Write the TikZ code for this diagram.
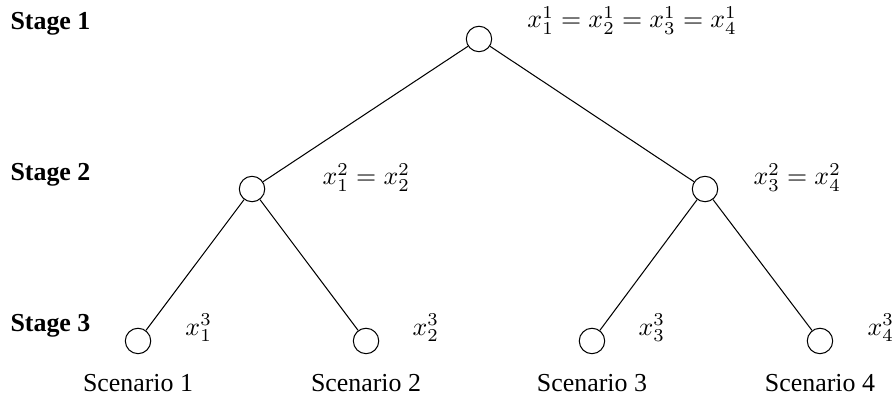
\documentclass[tikz,border=0pt]{standalone}
\usepackage[no-math]{fontspec}
\setmainfont{Liberation Serif}

\tikzset{
  stage/.style={circle,draw,minimum size=0.345cm,inner sep=0pt},
  lbl/.style={anchor=base west,inner sep=0pt},
  scen/.style={anchor=base,inner sep=0pt}
}

\begin{document}
\begin{tikzpicture}
\useasboundingbox (0,0) rectangle (12.145,-5.374);
% stage names
\node[lbl] (s1) at (0.136,-0.407) {\textbf{Stage 1}};
\node[lbl] (s2) at (0.136,-2.456) {\textbf{Stage 2}};
\node[lbl] (s3) at (0.136,-4.505) {\textbf{Stage 3}};
% tree
\node[stage] (r) at (6.500,-0.529) {};
\node[stage] (a) at (3.420,-2.565) {};
\node[stage] (b) at (9.567,-2.565) {};
\node[stage] (a1) at (1.873,-4.627) {};
\node[stage] (a2) at (4.967,-4.627) {};
\node[stage] (b1) at (8.033,-4.627) {};
\node[stage] (b2) at (11.127,-4.627) {};
\draw (r) -- (a);
\draw (r) -- (b);
\draw (a) -- (a1);
\draw (a) -- (a2);
\draw (b) -- (b1);
\draw (b) -- (b2);
% nonanticipativity
\node[lbl] (xr) at (7.151,-0.380) {$x_1^1=x_2^1=x_3^1=x_4^1$};
\node[lbl] (xa) at (4.370,-2.510) {$x_1^2=x_2^2$};
\node[lbl] (xb) at (10.218,-2.510) {$x_3^2=x_4^2$};
\node[lbl] (xa1) at (2.510,-4.546) {$x_1^3$};
\node[lbl] (xa2) at (5.591,-4.546) {$x_2^3$};
\node[lbl] (xb1) at (8.658,-4.546) {$x_3^3$};
\node[lbl] (xb2) at (11.765,-4.546) {$x_4^3$};
% scenarios
\node[scen] (c1) at (1.873,-5.319) {Scenario 1};
\node[scen] (c2) at (4.967,-5.319) {Scenario 2};
\node[scen] (c3) at (8.033,-5.319) {Scenario 3};
\node[scen] (c4) at (11.127,-5.319) {Scenario 4};
\end{tikzpicture}
\end{document}
